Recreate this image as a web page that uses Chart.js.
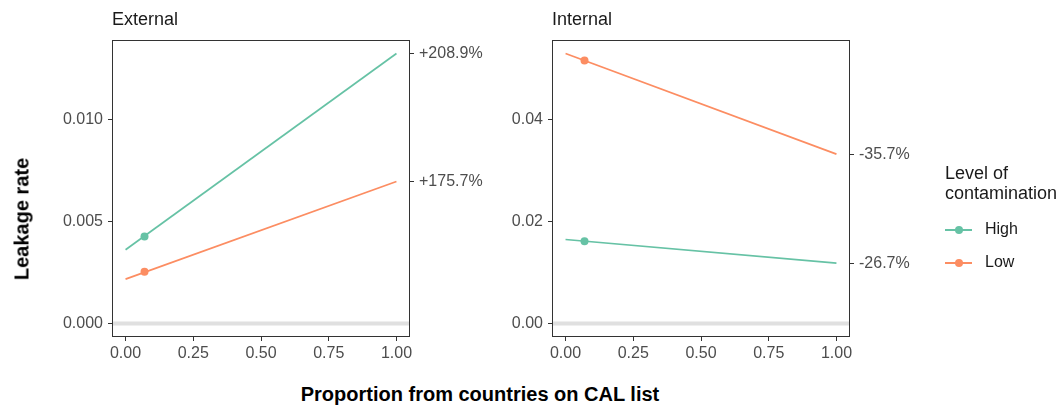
<!DOCTYPE html>
<html>
<head>
<meta charset="utf-8">
<title>Leakage rate by contamination level</title>
<script src="https://cdn.jsdelivr.net/npm/chart.js@4/dist/chart.umd.min.js"></script>
<style>
  body {
    margin: 0;
    background: #ffffff;
    font-family: "Liberation Sans", Arial, sans-serif;
  }
  #wrap {
    position: relative;
    width: 1063px;
    height: 405px;
    overflow: hidden;
  }
  canvas {
    position: absolute;
    top: 0;
  }
  #externalChart { left: 0; }
  #internalChart { left: 440px; }
  .axis-title {
    position: absolute;
    font-weight: bold;
    font-size: 20px;
    color: #000;
    white-space: nowrap;
  }
  #yTitle {
    left: 22px;
    top: 219px;
    transform: translate(-50%, -50%) rotate(-90deg);
  }
  #xTitle {
    left: 480px;
    top: 394px;
    transform: translate(-50%, -50%);
  }
  #legend {
    position: absolute;
    left: 945px;
    top: 163px;
    color: #1a1a1a;
  }
  #legend .title {
    font-size: 18px;
    line-height: 20px;
  }
  #legend .item {
    position: relative;
    height: 33px;
    font-size: 16px;
  }
  #legend .key {
    position: absolute;
    left: 0;
    top: 14px;
    width: 27px;
    height: 2px;
  }
  #legend .dot {
    position: absolute;
    left: 10px;
    top: -3px;
    width: 8px;
    height: 8px;
    border-radius: 50%;
  }
  #legend .label {
    position: absolute;
    left: 40px;
    top: 5px;
  }
</style>
</head>
<body>
<div id="wrap">
  <canvas id="externalChart" width="520" height="372"></canvas>
  <canvas id="internalChart" width="520" height="372"></canvas>
  <div id="yTitle" class="axis-title">Leakage rate</div>
  <div id="xTitle" class="axis-title">Proportion from countries on CAL list</div>
  <div id="legend">
    <div class="title">Level of<br>contamination</div>
    <div style="height:12px"></div>
    <div id="legendItems"></div>
  </div>
</div>

<script>
// Leakage rate vs proportion from CAL-list countries

/* =========================================
   DATA
========================================= */
const panels = ["External", "Internal"];
const levels = ["High", "Low"];
const levelColors = ["#66c2a5", "#fc8d62"];

// line end points at x = 0 and x = 1
const lineX = [0, 1];
// observed point
const pointX = 0.07;

const externalHighLine = [0.00361, 0.01321];
const externalLowLine = [0.00217, 0.00695];
const externalHighPoint = 0.00426;
const externalLowPoint = 0.00253;
const externalChangeLabels = ["+208.9%", "+175.7%"];

const internalHighLine = [0.01644, 0.01182];
const internalLowLine = [0.05284, 0.03315];
const internalHighPoint = 0.01612;
const internalLowPoint = 0.05147;
const internalChangeLabels = ["-26.7%", "-35.7%"];

const xTicks = [0, 0.25, 0.5, 0.75, 1];
const externalYTicks = [0, 0.005, 0.01];
const internalYTicks = [0, 0.02, 0.04];

const FONT = "'Liberation Sans', Arial, sans-serif";

/* =========================================
   HELPERS
========================================= */
function lineData(values) {
  return lineX.map((x, i) => ({ x: x, y: values[i] }));
}

// panel frame (top side has no axis)
const framePlugin = {
  id: "frame",
  afterDraw(chart) {
    const a = chart.chartArea;
    const ctx = chart.ctx;
    ctx.save();
    ctx.strokeStyle = "#333333";
    ctx.lineWidth = 1;
    ctx.strokeRect(a.left + 0.5, a.top + 0.5, a.right - a.left - 1, a.bottom - a.top - 1);
    ctx.restore();
  }
};

function buildPanel(canvasId, title, highLine, lowLine, highPoint, lowPoint, yTicks, decimals, changeLabels) {
  const allValues = [0, ...highLine, ...lowLine, highPoint, lowPoint];
  const lo = Math.min(...allValues);
  const hi = Math.max(...allValues);
  const pad = (hi - lo) * 0.05;
  const yMin = lo - pad;
  const yMax = hi + pad;

  // right-hand labels sit at the x = 1 end of each line
  const endValues = [highLine[1], lowLine[1]];

  const tickFont = { family: FONT, size: 16 };
  const tickColor = "#4d4d4d";
  const gridCommon = {
    drawOnChartArea: false,
    drawTicks: true,
    tickLength: 4,
    color: "#333333",
    lineWidth: 1
  };

  return new Chart(document.getElementById(canvasId).getContext("2d"), {
    type: "scatter",
    data: {
      datasets: [
        {
          label: "zero",
          data: [{ x: -0.05, y: 0 }, { x: 1.05, y: 0 }],
          showLine: true,
          borderColor: "#e0e0e0",
          borderWidth: 4,
          pointRadius: 0,
          order: 10
        },
        {
          label: levels[0],
          data: lineData(highLine),
          showLine: true,
          borderColor: levelColors[0],
          borderWidth: 1.7,
          pointRadius: 0,
          order: 2
        },
        {
          label: levels[1],
          data: lineData(lowLine),
          showLine: true,
          borderColor: levelColors[1],
          borderWidth: 1.7,
          pointRadius: 0,
          order: 2
        },
        {
          label: levels[0] + " point",
          data: [{ x: pointX, y: highPoint }],
          showLine: false,
          pointRadius: 4,
          pointBackgroundColor: levelColors[0],
          pointBorderWidth: 0,
          order: 1
        },
        {
          label: levels[1] + " point",
          data: [{ x: pointX, y: lowPoint }],
          showLine: false,
          pointRadius: 4,
          pointBackgroundColor: levelColors[1],
          pointBorderWidth: 0,
          order: 1
        }
      ]
    },
    options: {
      responsive: false,
      animation: false,
      devicePixelRatio: 1,
      layout: { padding: 0 },
      scales: {
        x: {
          type: "linear",
          min: -0.05,
          max: 1.05,
          afterBuildTicks: axis => { axis.ticks = xTicks.map(v => ({ value: v })); },
          afterFit: axis => { axis.height = 35; },
          ticks: {
            font: tickFont,
            color: tickColor,
            padding: 3,
            maxRotation: 0,
            callback: v => Number(v).toFixed(2)
          },
          grid: gridCommon,
          border: { display: false }
        },
        y: {
          type: "linear",
          position: "left",
          min: yMin,
          max: yMax,
          afterBuildTicks: axis => { axis.ticks = yTicks.map(v => ({ value: v })); },
          afterFit: axis => { axis.width = 112; },
          ticks: {
            font: tickFont,
            color: tickColor,
            padding: 5,
            callback: v => Number(v).toFixed(decimals)
          },
          grid: gridCommon,
          border: { display: false }
        },
        y2: {
          type: "linear",
          position: "right",
          min: yMin,
          max: yMax,
          afterBuildTicks: axis => { axis.ticks = endValues.map(v => ({ value: v })); },
          afterFit: axis => { axis.width = 110; },
          ticks: {
            font: tickFont,
            color: tickColor,
            padding: 5,
            callback: (v, i) => changeLabels[i]
          },
          grid: gridCommon,
          border: { display: false }
        }
      },
      plugins: {
        legend: { display: false },
        tooltip: { enabled: false },
        title: {
          display: true,
          text: title,
          align: "start",
          fullSize: false,
          color: "#1a1a1a",
          font: { family: FONT, size: 18, weight: "normal" },
          padding: { top: 9, bottom: 9.4 }
        }
      }
    },
    plugins: [framePlugin]
  });
}

/* =========================================
   LEGEND
========================================= */
function renderLegend() {
  const box = document.getElementById("legendItems");
  levels.forEach((name, i) => {
    const item = document.createElement("div");
    item.className = "item";
    item.innerHTML = `
      <div class="key" style="background:${levelColors[i]}">
        <div class="dot" style="background:${levelColors[i]}"></div>
      </div>
      <div class="label">${name}</div>
    `;
    box.appendChild(item);
  });
}

/* =========================================
   RENDER
========================================= */
buildPanel("externalChart", panels[0], externalHighLine, externalLowLine,
  externalHighPoint, externalLowPoint, externalYTicks, 3, externalChangeLabels);
buildPanel("internalChart", panels[1], internalHighLine, internalLowLine,
  internalHighPoint, internalLowPoint, internalYTicks, 2, internalChangeLabels);
renderLegend();
</script>
</body>
</html>
